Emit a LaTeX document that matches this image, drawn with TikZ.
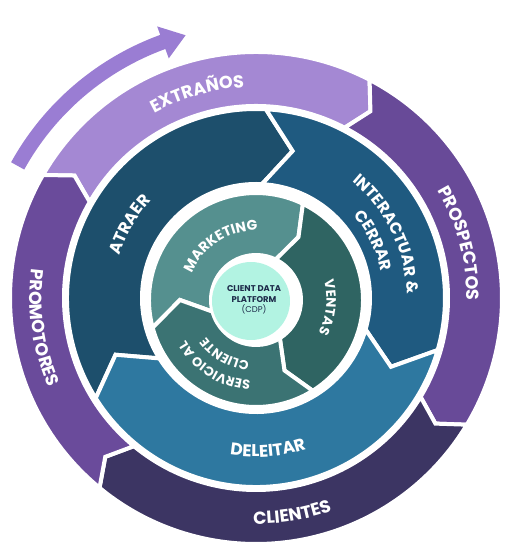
\documentclass[tikz,border=0pt]{standalone}
\usepackage{fontspec}
\setmainfont{Poppins}
\newfontfamily\lbl[LetterSpace=2]{Poppins}
\newfontfamily\cdpfont{Poppins}
\usetikzlibrary{decorations.text}
\definecolor{extr}{HTML}{A488D3}
\definecolor{arrowc}{HTML}{9A7DD3}
\definecolor{prosp}{HTML}{684A98}
\definecolor{promo}{HTML}{6A4B9B}
\definecolor{clien}{HTML}{3C3563}
\definecolor{atraer}{HTML}{1D4F6C}
\definecolor{inter}{HTML}{1F5A80}
\definecolor{deleit}{HTML}{2E78A0}
\definecolor{mkt}{HTML}{55908F}
\definecolor{vent}{HTML}{2F6462}
\definecolor{serv}{HTML}{3B7373}
\definecolor{cdpfill}{HTML}{B2F3E2}
\definecolor{cdptext}{HTML}{1D2B4A}
% a1, a2, rin, rout, dnotch, dtip, colour
\newcommand\ringseg[7]{%
  \path[fill=#7, draw=white, line width=4pt, line join=miter]
    (#1:#4) arc[start angle=#1, end angle=#2, radius=#4]
    -- ({#2-#6}:{(#3+#4)/2}) -- (#2:#3)
    arc[start angle=#2, end angle=#1, radius=#3]
    -- ({#1-#5}:{(#3+#4)/2}) -- cycle;}
% start angle, end angle, radius, font size, text
\newcommand\arctext[5]{%
  \path[decorate, decoration={text along path, text align=center, text color=white,
    text={|\lbl\bfseries\fontsize{#4}{#4}\selectfont|#5}}]
    (#1:#3) arc[start angle=#1, end angle=#2, radius=#3];}
\begin{document}
\begin{tikzpicture}[x=1pt,y=1pt]
\useasboundingbox (0,0) rectangle (514,560);
\coordinate (O) at (256,262);
\coordinate (I) at (256,260);
% top arrow
\begin{scope}[shift={(O)}]
  \path[fill=arrowc] (151:265) arc[start angle=151, end angle=110, radius=265]
    -- (110:255) -- (105:272) -- (110:289) -- (110:280)
    arc[start angle=110, end angle=151, radius=280] -- cycle;
  % outer ring
  \ringseg{150}{62.5}{192}{246}{4}{4}{extr}
  \ringseg{62.5}{-31}{192}{246}{4}{4}{prosp}
  \ringseg{-31}{-129.5}{192}{246}{4}{4}{clien}
  \ringseg{230.5}{150}{192}{246}{4}{4}{promo}
  % middle ring
  \ringseg{212}{87}{114}{189}{10}{11}{atraer}
  \ringseg{87}{-16}{114}{189}{11}{11}{inter}
  \ringseg{-16}{-148}{114}{189}{11}{10}{deleit}
  % outer labels
  \arctext{150}{62}{211}{17.5}{EXTRAÑOS}
  \arctext{59}{-29}{211}{17.5}{PROSPECTOS}
  \arctext{-125}{-36}{226}{17.5}{CLIENTES}
  \arctext{150}{226}{226}{17.5}{PROMOTORES}
  % middle labels
  \arctext{190}{110}{143}{16.5}{ATRAER}
  \arctext{80}{-28}{151}{16}{INTERACTUAR {\&}}
  \arctext{80}{-28}{128}{16}{CERRAR}
  \arctext{-130}{-41}{159}{17}{DELEITAR}
\end{scope}
\begin{scope}[shift={(I)}]
  \ringseg{195}{64}{45}{107}{15}{8}{mkt}
  \ringseg{64}{-58}{45}{107}{8}{10}{vent}
  \ringseg{-58}{-165}{45}{107}{10}{15}{serv}
  \arctext{183}{63}{69.5}{14}{MARKETING}
  \arctext{54}{-66}{70.5}{13.5}{VENTAS}
  \arctext{-52}{-192}{81}{13}{SERVICIO AL}
  \arctext{-50}{-190}{62}{13}{CLIENTE}
\end{scope}
\fill[cdpfill] (251,259) circle[radius=39];
\node[font=\cdpfont\bfseries\fontsize{8.4}{10.5}\selectfont, text=cdptext, align=center]
  (cdp) at (254,260) {CLIENT DATA\\PLATFORM\\{\mdseries (CDP)}};
\end{tikzpicture}
\end{document}
